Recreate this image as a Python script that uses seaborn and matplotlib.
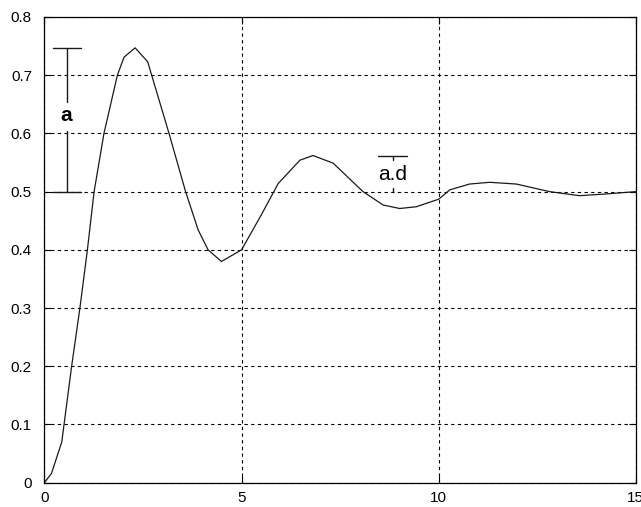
import matplotlib
matplotlib.use("Agg")
import matplotlib.pyplot as plt
import seaborn as sns
import pandas as pd

# Step-response samples
t = [0.0, 0.18, 0.44, 0.69, 0.90, 1.09, 1.26, 1.51, 1.85, 2.02, 2.30, 2.62, 2.72,
     3.16, 3.58, 3.90, 4.15, 4.49, 5.00, 5.50, 5.93, 6.48, 6.81, 7.32, 8.08, 8.59,
     9.01, 9.43, 10.0, 10.28, 10.78, 11.29, 11.97, 12.81, 13.57, 14.25, 15.0]
y = [0.0, 0.016, 0.07, 0.20, 0.30, 0.40, 0.50, 0.60, 0.70, 0.731, 0.747, 0.723, 0.70,
     0.60, 0.50, 0.434, 0.40, 0.38, 0.40, 0.46, 0.514, 0.554, 0.562, 0.549, 0.50, 0.477,
     0.471, 0.474, 0.487, 0.503, 0.513, 0.516, 0.513, 0.50, 0.493, 0.496, 0.50]

x_ticks = [0, 5, 10, 15]
y_ticks = [0, 0.1, 0.2, 0.3, 0.4, 0.5, 0.6, 0.7, 0.8]
y_tick_labels = ["0", "0.1", "0.2", "0.3", "0.4", "0.5", "0.6", "0.7", "0.8"]

# Annotation brackets
a_x, a_cap = 0.56, (0.23, 0.93)
a_top, a_bottom = 0.747, 0.5
a_label_y = 0.630
ad_x, ad_cap = 8.84, (8.46, 9.19)
ad_top, ad_bottom = 0.562, 0.5
ad_label_y = 0.530

sns.set_style("white")
plt.rcParams["font.family"] = ["Liberation Sans", "DejaVu Sans"]

fig = plt.figure(figsize=(6.41, 5.07), dpi=100)
ax = fig.add_axes([0.0693, 0.048, 0.9227, 0.9185])

df = pd.DataFrame({"t": t, "y": y})
sns.lineplot(data=df, x="t", y="y", ax=ax, color="#1a1a1a", linewidth=0.9)

ax.set_xlim(0, 15)
ax.set_ylim(0, 0.8)
ax.set_xticks(x_ticks)
ax.set_xticklabels([str(v) for v in x_ticks])
ax.set_yticks(y_ticks)
ax.set_yticklabels(y_tick_labels)
ax.set_xlabel("")
ax.set_ylabel("")
ax.grid(True, color="black", linestyle=(0, (3, 3)), linewidth=0.8)
ax.tick_params(direction="in", length=5, width=0.8, top=True, right=True,
               labelsize=11, colors="black", left=True, bottom=True)
ax.tick_params(axis="y", pad=9)
ax.tick_params(axis="x", pad=6)
for s in ax.spines.values():
    s.set_color("black")
    s.set_linewidth(0.9)

# "a" bracket
lc = "#1a1a1a"
ax.plot([a_cap[0], a_cap[1]], [a_top, a_top], color=lc, lw=1)
ax.plot([a_cap[0], a_cap[1]], [a_bottom, a_bottom], color=lc, lw=1)
ax.plot([a_x, a_x], [a_top, a_label_y + 0.024], color=lc, lw=1)
ax.plot([a_x, a_x], [a_label_y - 0.026, a_bottom], color=lc, lw=1)
ax.text(a_x, a_label_y, "a", ha="center", va="center", fontsize=15,
        fontweight="bold", color="black")

# "a.d" bracket
ax.plot([ad_cap[0], ad_cap[1]], [ad_top, ad_top], color=lc, lw=1)
ax.plot([ad_x, ad_x], [ad_top, ad_top - 0.007], color=lc, lw=1)
ax.plot([ad_x, ad_x], [ad_bottom, ad_bottom + 0.007], color=lc, lw=1)
ax.text(ad_x, ad_label_y, "a.d", ha="center", va="center", fontsize=15,
        color="black")

fig.savefig("out.png", dpi=100)
